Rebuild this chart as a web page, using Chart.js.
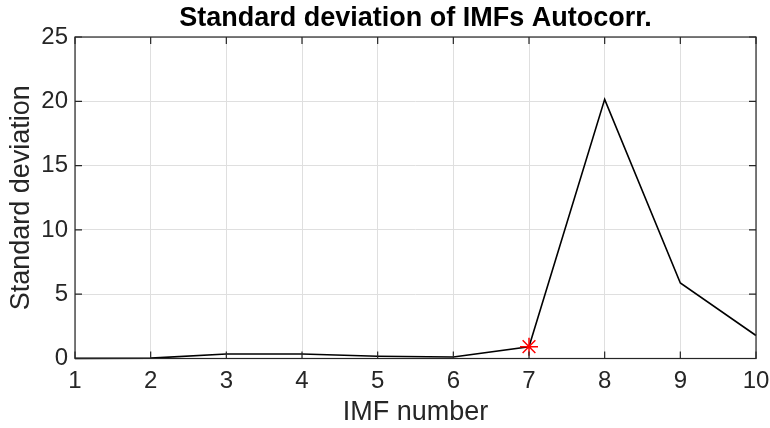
<!DOCTYPE html>
<html>
<head>
<meta charset="utf-8">
<script src="https://cdn.jsdelivr.net/npm/chart.js@4"></script>
<style>
  html, body { margin: 0; padding: 0; background: #ffffff; }
  #wrap { width: 770px; height: 428px; }
</style>
</head>
<body>
<div id="wrap"><canvas id="c" width="770" height="428"></canvas></div>
<script>
// IMF index and the standard deviation of each IMF's autocorrelation
const imfNumbers = [1, 2, 3, 4, 5, 6, 7, 8, 9, 10];
const stdValues = [0.01, 0.03, 0.35, 0.35, 0.17, 0.12, 0.92, 20.15, 5.87, 1.79];
// highlighted IMF (red asterisk)
const markedImf = [7];
const markedStd = [0.92];
const xTicks = [1, 2, 3, 4, 5, 6, 7, 8, 9, 10];
const yTicks = [0, 5, 10, 15, 20, 25];

const titleText = 'Standard deviation of IMFs Autocorr.';
const xLabel = 'IMF number';
const yLabel = 'Standard deviation';

const FONT = '"Liberation Sans", Arial, Helvetica, sans-serif';
const AXIS_COLOR = '#262626';
const GRID_COLOR = '#dfdfdf';

// box, inward tick marks on all four sides, and the title centred on the axes
const matlabAxes = {
  id: 'matlabAxes',
  afterDatasetsDraw(chart) {
    const { ctx, chartArea: a, scales } = chart;
    const tl = 7;
    ctx.save();
    ctx.strokeStyle = AXIS_COLOR;
    ctx.lineWidth = 1.2;
    ctx.beginPath();
    xTicks.forEach(v => {
      const px = scales.x.getPixelForValue(v);
      ctx.moveTo(px, a.bottom); ctx.lineTo(px, a.bottom - tl);
      ctx.moveTo(px, a.top); ctx.lineTo(px, a.top + tl);
    });
    yTicks.forEach(v => {
      const py = scales.y.getPixelForValue(v);
      ctx.moveTo(a.left, py); ctx.lineTo(a.left + tl, py);
      ctx.moveTo(a.right, py); ctx.lineTo(a.right - tl, py);
    });
    ctx.stroke();
    ctx.strokeRect(a.left, a.top, a.right - a.left, a.bottom - a.top);
    ctx.fillStyle = '#000000';
    ctx.font = 'bold 27px ' + FONT;
    ctx.textAlign = 'center';
    ctx.textBaseline = 'middle';
    ctx.fillText(titleText, (a.left + a.right) / 2, 19);
    ctx.restore();
  }
};

new Chart(document.getElementById('c'), {
  type: 'line',
  data: {
    datasets: [
      {
        data: imfNumbers.map((x, i) => ({ x: x, y: stdValues[i] })),
        borderColor: '#000000',
        borderWidth: 1.6,
        pointRadius: 0,
        tension: 0,
        order: 2
      },
      {
        data: markedImf.map((x, i) => ({ x: x, y: markedStd[i] })),
        showLine: false,
        pointStyle: 'star',
        pointRadius: 9,
        pointBorderColor: '#ff0000',
        pointBackgroundColor: '#ff0000',
        pointBorderWidth: 1.5,
        order: 1
      }
    ]
  },
  options: {
    responsive: false,
    animation: false,
    clip: false,
    layout: { padding: { top: 37, right: 14, left: 0, bottom: 0 } },
    plugins: {
      legend: { display: false },
      tooltip: { enabled: false },
      title: { display: false }
    },
    scales: {
      x: {
        type: 'linear',
        min: 1,
        max: 10,
        afterBuildTicks: s => { s.ticks = xTicks.map(v => ({ value: v })); },
        afterFit: s => { s.height = 69.5; s.paddingLeft = 0; s.paddingRight = 0; },
        grid: { color: GRID_COLOR, drawTicks: false, lineWidth: 1 },
        border: { display: false },
        ticks: {
          color: AXIS_COLOR,
          font: { family: FONT, size: 24 },
          padding: 8,
          maxRotation: 0,
          autoSkip: false
        },
        title: {
          display: true,
          text: xLabel,
          color: AXIS_COLOR,
          font: { family: FONT, size: 27, lineHeight: 1 },
          padding: { top: 0, bottom: 1.5 }
        }
      },
      y: {
        type: 'linear',
        min: 0,
        max: 25,
        afterBuildTicks: s => { s.ticks = yTicks.map(v => ({ value: v })); },
        afterFit: s => { s.width = 75; s.paddingTop = 0; s.paddingBottom = 0; },
        grid: { color: GRID_COLOR, drawTicks: false, lineWidth: 1 },
        border: { display: false },
        ticks: {
          color: AXIS_COLOR,
          font: { family: FONT, size: 24 },
          padding: 7
        },
        title: {
          display: true,
          text: yLabel,
          color: AXIS_COLOR,
          font: { family: FONT, size: 27, lineHeight: 1 },
          padding: { top: 8.5, bottom: 0 }
        }
      }
    }
  },
  plugins: [matlabAxes]
});
</script>
</body>
</html>
